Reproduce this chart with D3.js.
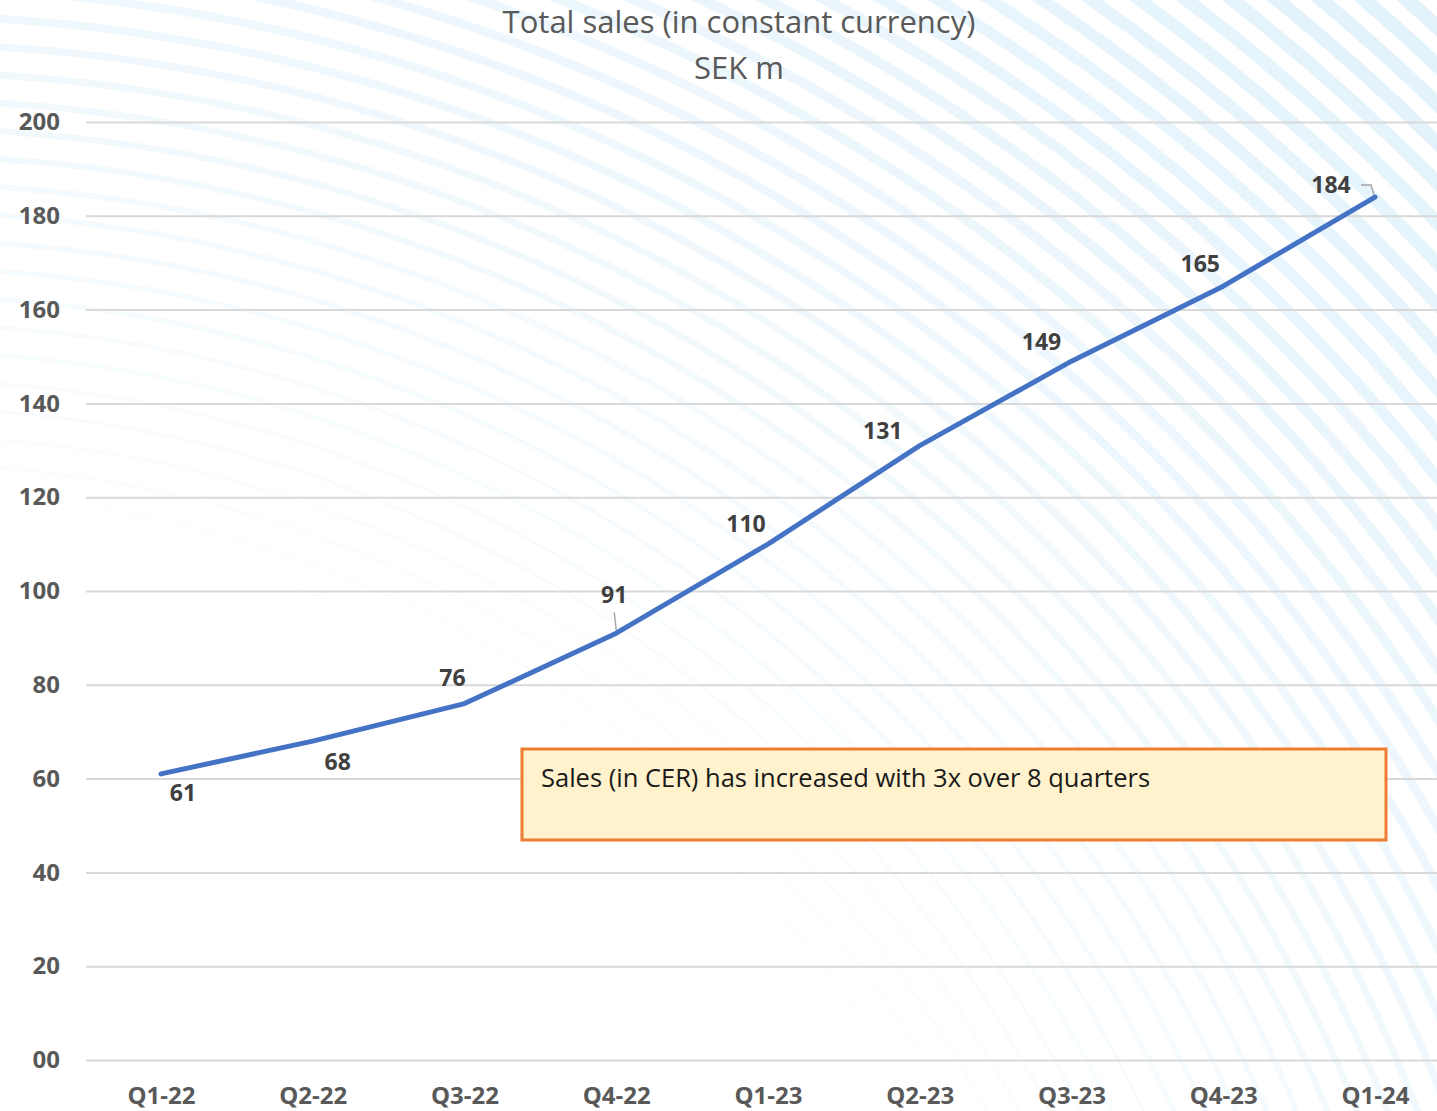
<!DOCTYPE html>
<html>
<head>
<meta charset="utf-8">
<script src="https://cdn.jsdelivr.net/npm/d3@7"></script>
<style>
  html, body { margin: 0; padding: 0; background: #ffffff; }
  svg { display: block; }
</style>
</head>
<body>
<svg id="chart" width="1437" height="1111"></svg>
<script>
// Quarterly total sales, SEK m (constant currency)
const quarters = ["Q1-22", "Q2-22", "Q3-22", "Q4-22", "Q1-23", "Q2-23", "Q3-23", "Q4-23", "Q1-24"];
const sales = [61, 68, 76, 91, 110, 131, 149, 165, 184];
const yTicks = [0, 20, 40, 60, 80, 100, 120, 140, 160, 180, 200];
const titleLines = ["Total sales (in constant currency)", "SEK m"];
const noteText = "Sales (in CER) has increased with 3x over 8 quarters";

// Label placement relative to each point (layout only)
const labelOffsets = [[22, 19], [25, 21], [-12, -26], [-2, -38], [-22, -20], [-37, -15], [-30, -19], [-23, -22], [-44, -12]];

const W = 1437, H = 1111;
const svg = d3.select("#chart");
const font = "'Open Sans', 'Noto Sans', sans-serif";

// Decorative background: soft concentric light-blue arcs
const bg = svg.append("g");
const cx = -100, cy = 1700;
const radii = d3.range(1180, 2500, 28);
const wScale = d3.scaleLinear().domain([1180, 2300]).range([2, 15]).clamp(true);
const oScale = d3.scaleLinear().domain([1180, 1700, 2300]).range([0.12, 0.55, 1]).clamp(true);
bg.selectAll("circle").data(radii).join("circle")
  .attr("cx", cx).attr("cy", cy).attr("r", d => d)
  .attr("fill", "none")
  .attr("stroke", "#e2f2fb")
  .attr("stroke-width", d => wScale(d))
  .attr("stroke-opacity", d => oScale(d));

// Scales
const x = d3.scalePoint().domain(quarters).range([161, 1375]);
const y = d3.scaleLinear().domain([0, 200]).range([1060, 122]);

// Y axis with gridlines
const yAxis = svg.append("g")
  .attr("transform", "translate(86,0)")
  .call(d3.axisLeft(y).tickValues(yTicks).tickFormat(d3.format("02d")).tickSize(-(W - 86)).tickPadding(26));
yAxis.select(".domain").remove();
yAxis.selectAll(".tick line").attr("stroke", "#d9d9d9").attr("stroke-width", 2);
yAxis.selectAll(".tick text")
  .attr("fill", "#595959").attr("font-family", font).attr("font-weight", 700).attr("font-size", 24);

// X axis labels
const xAxis = svg.append("g")
  .attr("transform", "translate(0,1060)")
  .call(d3.axisBottom(x).tickSize(0).tickPadding(27));
xAxis.select(".domain").remove();
xAxis.selectAll(".tick text")
  .attr("fill", "#595959").attr("font-family", font).attr("font-weight", 700).attr("font-size", 24);

// Title
svg.append("g").selectAll("text").data(titleLines).join("text")
  .attr("x", 739).attr("y", (d, i) => 33 + i * 46)
  .attr("text-anchor", "middle")
  .attr("fill", "#595959").attr("font-family", font).attr("font-size", 31)
  .text(d => d);

// Sales line
const pts = quarters.map((q, i) => ({ q, v: sales[i], x: x(q), y: y(sales[i]) }));
svg.append("path")
  .datum(pts)
  .attr("fill", "none")
  .attr("stroke", "#4472c4")
  .attr("stroke-width", 5)
  .attr("stroke-linejoin", "round")
  .attr("stroke-linecap", "round")
  .attr("d", d3.line().x(d => d.x).y(d => d.y));

// Leader lines for displaced labels
const leaders = svg.append("g").attr("fill", "none").attr("stroke", "#a6a6a6").attr("stroke-width", 1.5);
{
  const p = pts[3];
  leaders.append("path").attr("d", `M${p.x - 2},${p.y - 21}L${p.x},${p.y - 3}`);
  const q = pts[8];
  leaders.append("path").attr("d", `M${q.x - 14},${q.y - 12}H${q.x - 4}L${q.x - 1},${q.y - 2}`);
}

// Value labels
svg.append("g").selectAll("text").data(pts).join("text")
  .attr("x", (d, i) => d.x + labelOffsets[i][0])
  .attr("y", (d, i) => d.y + labelOffsets[i][1])
  .attr("dy", "0.36em")
  .attr("text-anchor", "middle")
  .attr("fill", "#404040").attr("font-family", font).attr("font-weight", 700).attr("font-size", 23)
  .text(d => d.v);

// Annotation box
const note = svg.append("g");
note.append("rect")
  .attr("x", 522).attr("y", 749).attr("width", 864).attr("height", 91)
  .attr("fill", "#fff2cc").attr("stroke", "#ed7d31").attr("stroke-width", 3);
note.append("text")
  .attr("x", 541).attr("y", 787)
  .attr("fill", "#1a1a1a").attr("font-family", font).attr("font-size", 25.5)
  .text(noteText);
</script>
</body>
</html>
